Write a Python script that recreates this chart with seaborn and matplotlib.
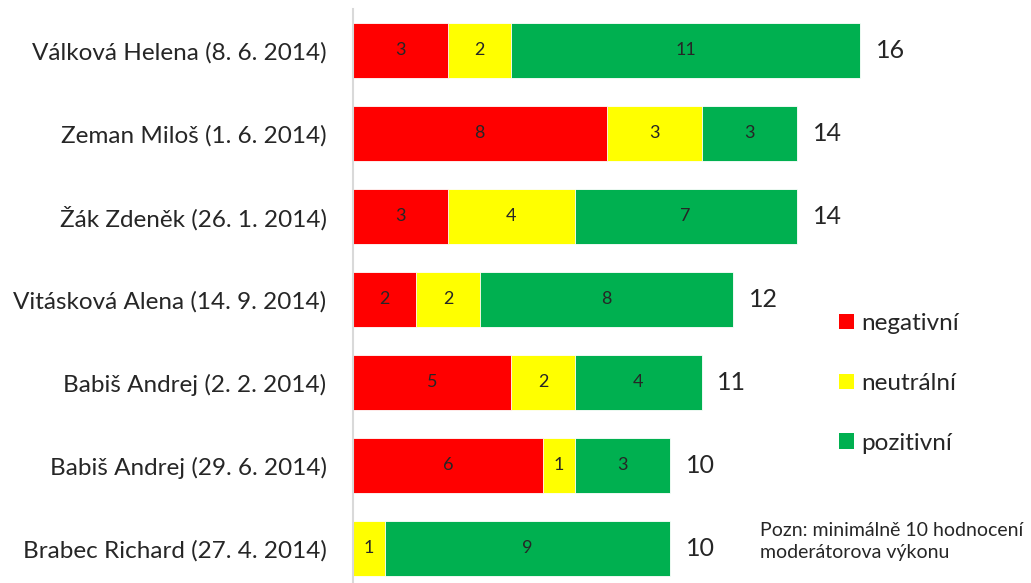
import matplotlib.pyplot as plt
import pandas as pd
import seaborn as sns
from matplotlib.patches import Patch


MODERATORS = [
    "Válková Helena (8. 6. 2014)",
    "Zeman Miloš (1. 6. 2014)",
    "Žák Zdeněk (26. 1. 2014)",
    "Vitásková Alena (14. 9. 2014)",
    "Babiš Andrej (2. 2. 2014)",
    "Babiš Andrej (29. 6. 2014)",
    "Brabec Richard (27. 4. 2014)",
]
NEGATIVE = [3, 8, 3, 2, 5, 6, 0]
NEUTRAL = [2, 3, 4, 2, 2, 1, 1]
POSITIVE = [11, 3, 7, 8, 4, 3, 9]
SERIES_NAMES = ["negativní", "neutrální", "pozitivní"]
COLORS = ["#FF0000", "#FFFF00", "#00B050"]
NOTE = "Pozn: minimálně 10 hodnocení\nmoderátorova výkonu"


def build_dataframe() -> pd.DataFrame:
    df = pd.DataFrame({
        "moderator": MODERATORS,
        "negativní": NEGATIVE,
        "neutrální": NEUTRAL,
        "pozitivní": POSITIVE,
    })
    df["neg_neu"] = df["negativní"] + df["neutrální"]
    df["total"] = df["neg_neu"] + df["pozitivní"]
    return df


def main() -> None:
    sns.set_style("white")
    plt.rcParams["font.family"] = ["Lato", "DejaVu Sans"]

    df = build_dataframe()

    fig = plt.figure(figsize=(10.31, 5.83), dpi=100)
    ax = fig.add_axes([353 / 1031, 0.0, 1 - 353 / 1031, 574 / 583])

    # stacked bars drawn back to front: total, neg+neu, neg
    for column, color in zip(["total", "neg_neu", "negativní"], COLORS[::-1]):
        sns.barplot(
            data=df, x=column, y="moderator", orient="h",
            color=color, width=0.66, saturation=1,
            edgecolor="white", linewidth=0.6, ax=ax,
        )

    for i, row in df.iterrows():
        left = 0
        for name in SERIES_NAMES:
            value = row[name]
            if value > 0:
                ax.text(left + value / 2, i, str(value),
                        ha="center", va="center", fontsize=13)
            left += value
        ax.text(row["total"] + 0.5, i, str(row["total"]),
                ha="left", va="center", fontsize=18)

    ax.set_xlim(0, 678 / (507 / 16))
    ax.set_ylim(6.4157, -0.5)
    ax.set_xlabel("")
    ax.set_ylabel("")
    ax.set_xticks([])
    ax.tick_params(axis="y", length=0, pad=19, labelsize=17.5)

    for side in ["top", "right", "bottom"]:
        ax.spines[side].set_visible(False)
    ax.spines["left"].set_color("#D9D9D9")
    ax.spines["left"].set_linewidth(1.5)

    handles = [Patch(facecolor=c, edgecolor="none") for c in COLORS]
    fig.legend(
        handles, SERIES_NAMES,
        loc="upper left", bbox_to_anchor=(839 / 1031, 1 - 313 / 583),
        frameon=False, fontsize=17.5, handlelength=0.6, handleheight=0.6,
        handletextpad=0.3, labelspacing=1.6, borderpad=0, borderaxespad=0,
    )

    fig.text(760 / 1031, 1 - 522 / 583, NOTE, fontsize=14,
             va="top", ha="left", linespacing=1.35)

    fig.savefig("out.png", dpi=100)
    plt.close(fig)


if __name__ == "__main__":
    main()
